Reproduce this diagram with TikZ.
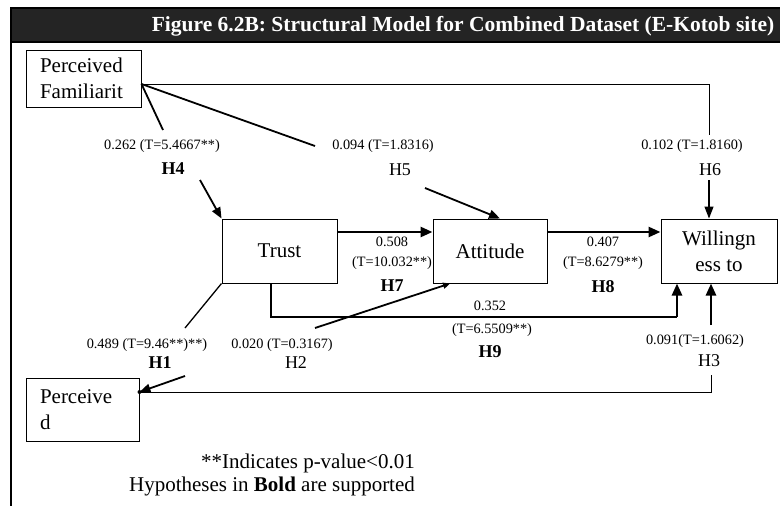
\documentclass[tikz,border=0pt]{standalone}
\usepackage{fontspec}
\setmainfont{Liberation Serif}
\usetikzlibrary{arrows.meta}
\begin{document}
\begin{tikzpicture}[x=1pt,y=-1pt,
  construct/.style={draw=black,line width=1pt,fill=white,inner sep=0pt,
    font=\fontsize{21}{26}\selectfont},
  coef/.style={font=\fontsize{14.3}{16}\selectfont,inner sep=0pt},
  hyp/.style={font=\fontsize{18}{20}\selectfont,inner sep=0pt},
  hypok/.style={font=\fontsize{18}{20}\selectfont\bfseries,inner sep=0pt},
  thinline/.style={line width=1pt},
  midline/.style={line width=1.8pt},
  bigarrow/.style={line width=2.6pt,-{Triangle[length=12pt,width=10pt]}},
  midarrow/.style={line width=1.8pt,-{Triangle[length=11pt,width=9pt]}},
  smallarrow/.style={line width=1.2pt,-{Triangle[length=12pt,width=9pt]}},
  note/.style={font=\fontsize{21}{24}\selectfont,inner sep=0pt}]
\useasboundingbox (0,0) rectangle (780,506);
\fill[white] (0,0) rectangle (780,506);

% title bar and frame
\fill[black!86] (10,8) rectangle (780,42);
\draw[line width=1.2pt] (10,8) -- (780,8) (10,42) -- (780,42);
\draw[line width=1.4pt] (11,8) -- (11,506);
\node[font=\fontsize{21.5}{24}\selectfont\bfseries,text=white,inner sep=0pt]
  (title) at (463,26) {Figure 6.2B: Structural Model for Combined Dataset (E-Kotob site)};

% constructs
\node[construct,minimum width=115pt,minimum height=57pt,text width=87pt,align=left]
  (pf) at (83.5,78.5) {Perceived\\Familiarit};
\node[construct,minimum width=113pt,minimum height=63pt,text width=85pt,align=left]
  (perc) at (82.5,409.5) {Perceive\\d};
\node[construct,minimum width=115pt,minimum height=64pt] (trust) at (279.5,251) {Trust};
\node[construct,minimum width=114pt,minimum height=64pt] (att) at (490,251) {Attitude};
\node[construct,minimum width=116pt,minimum height=64pt,align=center]
  (will) at (719,251) {Willingn\\ess to};

% break points of the interrupted paths
\coordinate (h4a) at (163,130);
\coordinate (h4b) at (200,180);
\coordinate (h5a) at (315,146);
\coordinate (h5b) at (425,188);
\coordinate (h6a) at (709,135);
\coordinate (h6b) at (709,180);
\coordinate (h9c) at (677,317);
\coordinate (h3a) at (711,375);
\coordinate (h3b) at (711,325);
\coordinate (h1a) at (185,328);
\coordinate (h1b) at (185,376);
\coordinate (h2a) at (315,328);

% H4: familiarity -> trust
\draw[midline] ([yshift=-5.5pt]pf.east) -- (h4a);
\draw[midarrow] (h4b) -- (trust.north west);
% H5: familiarity -> attitude
\draw[midline] ([yshift=-5.5pt]pf.east) -- (h5a);
\draw[midarrow] (h5b) -- ([xshift=10pt]att.north);
% H6: familiarity -> willingness
\draw[thinline] ([yshift=-5.5pt]pf.east) -| (h6a);
\draw[smallarrow] (h6b) -- ([xshift=-10pt]will.north);
% H7, H8
\draw[bigarrow] ([yshift=19pt]trust.east) -- ([yshift=19pt]att.west);
\draw[bigarrow] ([yshift=19pt]att.east) -- ([yshift=19pt]will.west);
% H9: trust -> willingness
\draw[line width=1.3pt] ([xshift=-8.5pt]trust.south) |- (h9c);
\draw[bigarrow] (h9c) -- ([xshift=-42pt]will.south);
% H3: perceived -> willingness
\draw[thinline] ([yshift=17.5pt]perc.east) -| (h3a);
\draw[bigarrow] (h3b) -- ([xshift=-8pt]will.south);
% H1: trust -- perceived
\draw[line width=1.3pt] (trust.south west) -- (h1a);
\draw[midarrow] (h1b) -- ([yshift=17.5pt]perc.east);
\fill ([yshift=17.5pt]perc.east) circle (2pt);
% H2: perceived -> attitude
\draw[line width=1.8pt,-{Triangle[length=7pt,width=6pt]}] (h2a) -- ([xshift=-40pt]att.south);

% path coefficients
\node[coef] (c4) at (162,146) {0.262 (T=5.4667**)};
\node[hypok] (n4) at (173,169) {H4};
\node[coef] (c5) at (383,146) {0.094 (T=1.8316)};
\node[hyp] (n5) at (400,170) {H5};
\node[coef] (c6) at (692,146) {0.102 (T=1.8160)};
\node[hyp] (n6) at (710,170) {H6};
\node[coef] (c7a) at (392,242) {0.508};
\node[coef] (c7b) at (392,263) {(T=10.032**)};
\node[hypok] (n7) at (392,286) {H7};
\node[coef] (c8a) at (603,242) {0.407};
\node[coef] (c8b) at (603,263) {(T=8.6279**)};
\node[hypok] (n8) at (603,287) {H8};
\node[coef] (c9a) at (490,306) {0.352};
\node[coef] (c9b) at (492,330) {(T=6.5509**)};
\node[hypok] (n9) at (490,352) {H9};
\node[coef] (c1) at (147,345) {0.489 (T=9.46**)**)};
\node[hypok] (n1) at (160,363) {H1};
\node[coef] (c2) at (282,345) {0.020 (T=0.3167)};
\node[hyp] (n2) at (296,363) {H2};
\node[coef] (c3) at (695,341) {0.091(T=1.6062)};
\node[hyp] (n3) at (709,361) {H3};

% notes
\node[note] (note1) at (308,463) {**Indicates p-value<0.01};
\node[note] (note2) at (272,486) {Hypotheses in \textbf{Bold} are supported};
\end{tikzpicture}
\end{document}
